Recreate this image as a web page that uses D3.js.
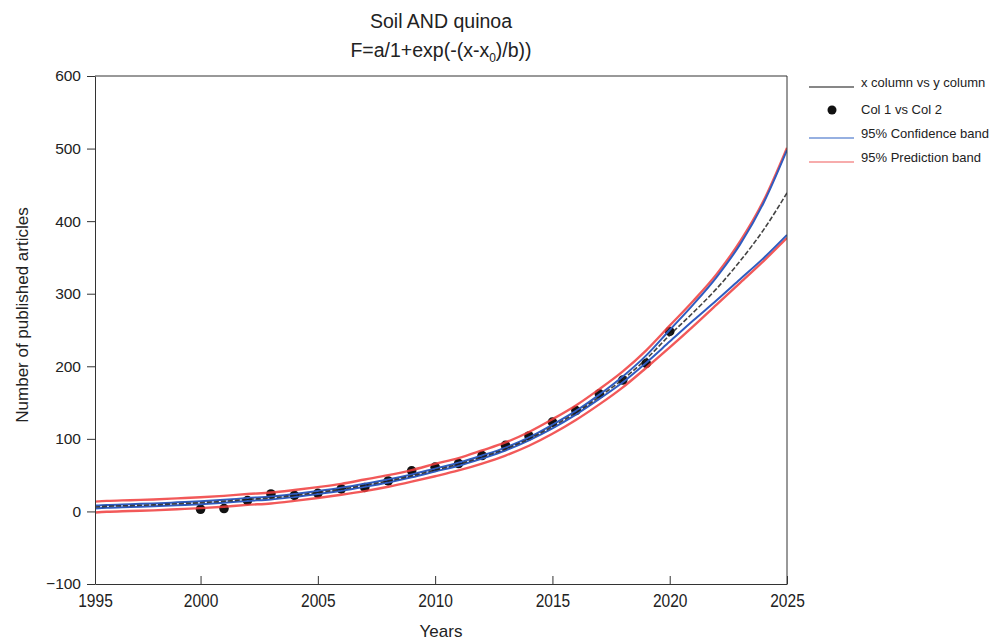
<!DOCTYPE html>
<html>
<head>
<meta charset="utf-8">
<title>Soil AND quinoa</title>
<script src="https://cdn.jsdelivr.net/npm/d3@7"></script>
<style>
    body { margin: 0; background: #fff; }
    svg { display: block; font-family: "Liberation Sans", Arial, Helvetica, sans-serif; }
</style>
</head>
<body>
<div id="chart"></div>
<script>
// Observed data (Col 1 vs Col 2)
const pointYears = [2000, 2001, 2002, 2003, 2004, 2005, 2006, 2007, 2008, 2009, 2010,
    2011, 2012, 2013, 2014, 2015, 2016, 2017, 2018, 2019, 2020];
const pointCounts = [3, 4, 15, 24, 22, 25, 31, 33, 42, 56, 61,
    66, 77, 91, 104, 123, 139, 162, 181, 204, 248];

const curveYears = [1995, 1996, 1997, 1998, 1999, 2000, 2001, 2002, 2003, 2004, 2005,
    2006, 2007, 2008, 2009, 2010, 2011, 2012, 2013, 2014, 2015,
    2016, 2017, 2018, 2019, 2020, 2021, 2022, 2023, 2024, 2025];
const fitValues = [6, 7, 8, 9, 10.5, 12, 14, 16.5, 18.5, 22, 26,
    30.5, 36, 42, 49, 57, 65, 75, 86, 100, 117,
    136, 158, 182, 210, 243, 274, 307, 345, 388, 439];
const confUpper = [8, 9, 10, 11, 12.5, 14, 16, 18.5, 20.5, 24, 28,
    32.5, 38, 44, 51, 59, 67, 77, 88, 102, 119.5,
    138.5, 161, 186, 215, 250, 285, 323, 368, 425, 498];
const confLower = [4, 5, 6, 7, 8.5, 10, 12, 14.5, 16.5, 20, 24,
    28.5, 34, 40, 47, 55, 63, 73, 84, 98, 114.5,
    133.5, 155, 178, 205, 234, 263, 291, 320, 349, 381];
const predUpper = [13.5, 14.5, 15.5, 16.5, 18, 19.5, 21.5, 24, 26, 29.5, 33.5,
    38, 44, 50, 57, 65.5, 73.5, 84, 95, 109.5, 127,
    146, 168.5, 193, 222, 256, 290, 327, 372, 428, 501];
const predLower = [-1.5, -0.5, 0.5, 1.5, 3, 4.5, 6.5, 9, 11, 14.5, 18.5,
    23, 28, 34, 41, 48.5, 56.5, 66, 77, 90.5, 107,
    126, 147.5, 171, 198, 226, 255, 285, 315, 345, 377];

// Axis ticks
const xTicks = [1995, 2000, 2005, 2010, 2015, 2020, 2025];
const yTicks = [-100, 0, 100, 200, 300, 400, 500, 600];

const legendItems = [
    { label: 'x column vs y column', type: 'line', color: '#111111' },
    { label: 'Col 1 vs Col 2', type: 'dot', color: '#111111' },
    { label: '95% Confidence band', type: 'line', color: '#2f62c4' },
    { label: '95% Prediction band', type: 'line', color: '#f05a5a' }
];

const config = {
    width: 992,
    height: 642,
    margin: { top: 76, right: 205, bottom: 58, left: 95 },
    xDomain: [1995.5, 2025],
    yDomain: [-100, 600],
    fitColor: '#222222',
    confColor: '#2f5cc0',
    predColor: '#f03c3c',
    axisColor: '#333333'
};

function drawChart() {
    const width = config.width - config.margin.left - config.margin.right;
    const height = config.height - config.margin.top - config.margin.bottom;

    const svg = d3.select('#chart')
        .append('svg')
        .attr('width', config.width)
        .attr('height', config.height);

    // Title (two lines, second with subscript)
    const title = svg.append('g')
        .attr('transform', `translate(${config.margin.left + width / 2},0)`)
        .attr('text-anchor', 'middle')
        .style('font-size', '19.5px')
        .style('fill', '#222');

    title.append('text').attr('y', 28).text('Soil AND quinoa');

    const formula = title.append('text').attr('y', 57);
    formula.append('tspan').text('F=a/1+exp(-(x-x');
    formula.append('tspan').attr('dy', 5).style('font-size', '12px').text('0');
    formula.append('tspan').attr('dy', -5).text(')/b))');

    const g = svg.append('g')
        .attr('transform', `translate(${config.margin.left},${config.margin.top})`);

    // Scales
    const x = d3.scaleLinear()
        .domain(config.xDomain)
        .range([0, width])
        .clamp(true);

    const y = d3.scaleLinear()
        .domain(config.yDomain)
        .range([height, 0]);

    g.append('defs').append('clipPath')
        .attr('id', 'plot-clip')
        .append('rect')
        .attr('width', width)
        .attr('height', height);

    const plot = g.append('g').attr('clip-path', 'url(#plot-clip)');

    // Data points first, lines are drawn over them
    plot.selectAll('.pt')
        .data(pointYears.map((yr, i) => ({ yr, v: pointCounts[i] })))
        .enter()
        .append('circle')
        .attr('class', 'pt')
        .attr('cx', d => x(d.yr))
        .attr('cy', d => y(d.v))
        .attr('r', 4.8)
        .attr('fill', '#111');

    const line = (values) => d3.line()
        .x((d, i) => x(curveYears[i]))
        .y(d => y(d))
        .curve(d3.curveMonotoneX)(values);

    [predUpper, predLower].forEach(vals => {
        plot.append('path')
            .attr('d', line(vals))
            .attr('fill', 'none')
            .attr('stroke', config.predColor)
            .attr('stroke-opacity', 0.85)
            .attr('stroke-width', 2.4);
    });

    [confUpper, confLower].forEach(vals => {
        plot.append('path')
            .attr('d', line(vals))
            .attr('fill', 'none')
            .attr('stroke', config.confColor)
            .attr('stroke-width', 2);
    });

    plot.append('path')
        .attr('d', line(fitValues))
        .attr('fill', 'none')
        .attr('stroke', config.fitColor)
        .attr('stroke-opacity', 0.85)
        .attr('stroke-width', 1.6)
        .attr('stroke-dasharray', '5,2');

    // Axes
    const yAxis = g.append('g')
        .call(d3.axisLeft(y).tickValues(yTicks).tickSize(8).tickSizeOuter(0).tickPadding(6));
    yAxis.selectAll('text').style('font-size', '15.5px').style('fill', '#222');

    const xAxis = g.append('g')
        .attr('transform', `translate(0,${height})`)
        .call(d3.axisBottom(x).tickValues(xTicks).tickSize(-8).tickSizeOuter(0)
            .tickPadding(10).tickFormat(d3.format('d')));
    xAxis.selectAll('text')
        .style('font-size', '18.5px')
        .style('fill', '#222')
        .attr('transform', 'scale(0.84,1)');

    [yAxis, xAxis].forEach(ax => {
        ax.selectAll('path, line').attr('stroke', config.axisColor);
    });

    // Top and right frame
    g.append('line')
        .attr('x1', 0).attr('x2', width)
        .attr('y1', 0).attr('y2', 0)
        .attr('stroke', config.axisColor);
    g.append('line')
        .attr('x1', width).attr('x2', width)
        .attr('y1', 0).attr('y2', height)
        .attr('stroke', config.axisColor);

    // Axis labels
    svg.append('text')
        .attr('x', config.margin.left + width / 2)
        .attr('y', 637)
        .attr('text-anchor', 'middle')
        .style('font-size', '17px')
        .style('fill', '#222')
        .text('Years');

    svg.append('text')
        .attr('transform', 'rotate(-90)')
        .attr('x', -315)
        .attr('y', 28)
        .attr('text-anchor', 'middle')
        .style('font-size', '17px')
        .style('fill', '#222')
        .text('Number of published articles');

    // Legend
    const legendRowY = [82, 109, 133, 157];
    const legend = svg.append('g').attr('transform', 'translate(809,0)');

    legendItems.forEach((item, i) => {
        const row = legend.append('g')
            .attr('transform', `translate(0,${legendRowY[i]})`);

        if (item.type === 'line') {
            row.append('line')
                .attr('x1', 0).attr('x2', 45)
                .attr('y1', 5).attr('y2', 5)
                .attr('stroke', item.color)
                .attr('stroke-width', 1.2);
        } else {
            row.append('circle')
                .attr('cx', 23).attr('cy', 1)
                .attr('r', 4.5)
                .attr('fill', item.color);
        }

        row.append('text')
            .attr('x', 52)
            .attr('y', 5)
            .style('font-size', '13px')
            .style('fill', '#222')
            .text(item.label);
    });
}

drawChart();
</script>
</body>
</html>
